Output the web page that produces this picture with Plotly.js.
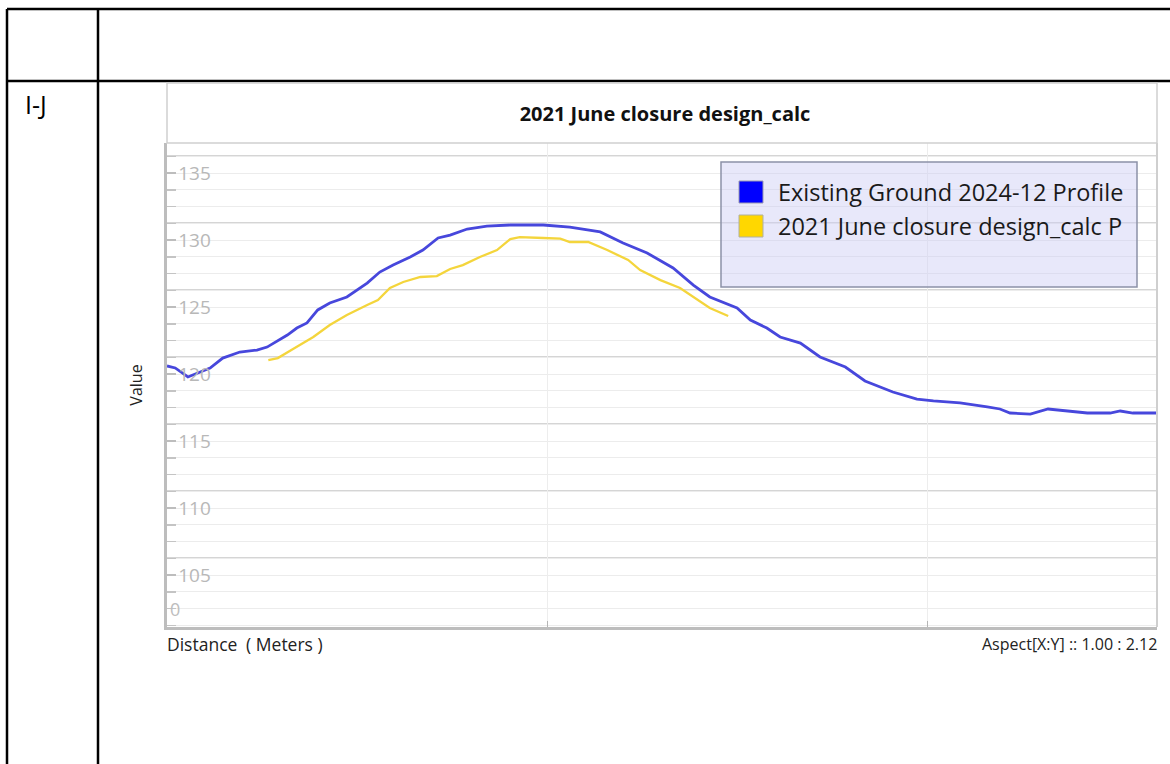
<!DOCTYPE html>
<html>
<head>
<meta charset="utf-8">
<script src="https://cdn.plot.ly/plotly-3.0.1.min.js"></script>
<style>
  html, body { margin: 0; padding: 0; background: #ffffff; }
  #chart { width: 1170px; height: 764px; }
</style>
</head>
<body>
<div id="chart"></div>
<script>
// Existing ground profile: distance along section (m) and elevation
const groundDist = [0, 1.3, 3.3, 5.2, 6.8, 8.8, 11.5, 14.2, 15.8, 19.0,
  20.5, 22.1, 23.8, 25.7, 28.4, 31.6, 33.6, 35.7, 38.4, 40.4,
  42.8, 44.7, 47.4, 50.5, 54.2, 59.4, 63.6, 68.4, 72.0, 75.8,
  79.9, 83.1, 85.7, 90.0, 92.1, 94.7, 96.8, 100.0, 103.1, 107.1,
  110.2, 114.6, 118.4, 121.0, 125.2, 129.5, 131.5, 133.1, 136.3, 139.1,
  142.1, 145.3, 148.9, 150.5, 152.5, 156.3];
const groundElev = [120.6, 120.45, 119.78, 120.15, 120.45, 121.19, 121.64, 121.79, 122.01, 122.91,
  123.43, 123.81, 124.78, 125.3, 125.75, 126.79, 127.61, 128.13, 128.73, 129.25,
  130.15, 130.37, 130.82, 131.04, 131.12, 131.12, 130.97, 130.6, 129.78, 129.03,
  127.91, 126.64, 125.75, 124.93, 124.03, 123.43, 122.76, 122.31, 121.27, 120.52,
  119.48, 118.66, 118.13, 117.99, 117.84, 117.54, 117.39, 117.09, 117.01, 117.39,
  117.24, 117.09, 117.09, 117.24, 117.09, 117.09];

// Design profile (2021 June closure)
const designDist = [16.0, 17.5, 19.9, 23.1, 25.7, 28.4, 31.6, 33.3, 35.2, 37.3,
  40.0, 42.6, 44.7, 46.7, 49.4, 52.1, 54.2, 55.7, 59.4, 62.1,
  63.6, 66.5, 69.5, 72.8, 74.7, 77.9, 81.0, 83.1, 85.7, 88.6];
const designElev = [121.04, 121.19, 121.87, 122.76, 123.66, 124.4, 125.15, 125.52, 126.42, 126.87,
  127.24, 127.31, 127.84, 128.13, 128.73, 129.25, 130.07, 130.22, 130.15, 130.1,
  129.85, 129.85, 129.25, 128.51, 127.76, 127.01, 126.42, 125.75, 124.93, 124.33];

const elevTicks = [135, 130, 125, 120, 115, 110, 105];
const seriesNames = ['Existing Ground 2024-12 Profile', '2021 June closure design_calc P'];
const seriesColors = ['#4747dc', '#f4d53c'];
const swatchColors = ['#0000ff', '#ffd700'];
const chartTitle = '2021 June closure design_calc';
const sectionLabel = 'I-J';

// page geometry (pixels) of the plotting frame
const W = 1170, H = 764, L = 167, R = 1157, T = 143, B = 627;
const px = x => (x - L) / (R - L);
const py = y => (B - y) / (B - T);

const FONT = '"Open Sans", "Noto Sans", sans-serif';

const traces = [
  { x: groundDist, y: groundElev, type: 'scatter', mode: 'lines', name: seriesNames[0],
    line: { color: seriesColors[0], width: 2.8 }, showlegend: false },
  { x: designDist, y: designElev, type: 'scatter', mode: 'lines', name: seriesNames[1],
    line: { color: seriesColors[1], width: 2.3 }, showlegend: false }
];

const shapes = [];
const blackLine = { color: '#000000', width: 2.5 };
// table rules around the section cell
shapes.push({ type: 'line', xref: 'paper', yref: 'paper', x0: px(7), x1: px(1172), y0: py(9), y1: py(9), line: blackLine });
shapes.push({ type: 'line', xref: 'paper', yref: 'paper', x0: px(7), x1: px(1172), y0: py(81), y1: py(81), line: blackLine });
shapes.push({ type: 'line', xref: 'paper', yref: 'paper', x0: px(7), x1: px(7), y0: py(9), y1: py(770), line: blackLine });
shapes.push({ type: 'line', xref: 'paper', yref: 'paper', x0: px(98), x1: px(98), y0: py(9), y1: py(770), line: blackLine });

// chart frame and title box
shapes.push({ type: 'rect', xref: 'paper', yref: 'paper', x0: px(167), x1: px(1157), y0: py(83), y1: py(143),
  line: { color: '#cfcfcf', width: 1.5 }, fillcolor: 'rgba(0,0,0,0)' });
shapes.push({ type: 'line', xref: 'paper', yref: 'paper', x0: 1, x1: 1, y0: 0, y1: 1,
  line: { color: '#cfcfcf', width: 2 } });

// heavy elevation rules every 5 m, offset from the labelled ticks
for (let v = 136.25; v > 102; v -= 5) {
  shapes.push({ type: 'line', xref: 'paper', yref: 'y', x0: 0, x1: 1, y0: v, y1: v,
    line: { color: '#ababab', width: 1.5 }, layer: 'below' });
}

// legend box with colour swatches
shapes.push({ type: 'rect', xref: 'paper', yref: 'paper', x0: px(721), x1: px(1137), y0: py(162), y1: py(287),
  line: { color: '#8c91a8', width: 1.5 }, fillcolor: 'rgba(205,205,245,0.45)' });
shapes.push({ type: 'rect', xref: 'paper', yref: 'paper', x0: px(739), x1: px(763), y0: py(181), y1: py(203),
  line: { color: '#9a9ab0', width: 1 }, fillcolor: swatchColors[0] });
shapes.push({ type: 'rect', xref: 'paper', yref: 'paper', x0: px(739), x1: px(763), y0: py(215), y1: py(237),
  line: { color: '#b0b0a0', width: 1 }, fillcolor: swatchColors[1] });

const annotations = [
  { text: sectionLabel, xref: 'paper', yref: 'paper', x: px(23), y: py(104), xanchor: 'left', yanchor: 'middle',
    showarrow: false, font: { family: FONT, size: 25, color: '#000000' } },
  { text: seriesNames[0], xref: 'paper', yref: 'paper', x: px(776), y: py(192), xanchor: 'left', yanchor: 'middle',
    showarrow: false, font: { family: FONT, size: 23.5, color: '#1a1a1a' } },
  { text: seriesNames[1], xref: 'paper', yref: 'paper', x: px(776), y: py(226), xanchor: 'left', yanchor: 'middle',
    showarrow: false, font: { family: FONT, size: 23.5, color: '#1a1a1a' } },
  { text: 'Distance\u2002( Meters )', xref: 'paper', yref: 'paper', x: px(165), y: py(644), xanchor: 'left', yanchor: 'middle',
    showarrow: false, font: { family: FONT, size: 17.5, color: '#222222' } },
  { text: 'Aspect[X:Y] :: 1.00 : 2.12', xref: 'paper', yref: 'paper', x: px(1159), y: py(644), xanchor: 'right', yanchor: 'middle',
    showarrow: false, font: { family: FONT, size: 16, color: '#222222' } },
  { text: '0', xref: 'paper', yref: 'y', x: px(168), y: 102.5, xanchor: 'left', yanchor: 'middle',
    showarrow: false, font: { family: FONT, size: 18, color: '#bdbdbd' } }
];

const layout = {
  width: W, height: H,
  margin: { l: L, r: W - R, t: T, b: H - B, pad: 0 },
  paper_bgcolor: '#ffffff', plot_bgcolor: '#ffffff',
  showlegend: false,
  title: { text: chartTitle, x: 665 / W, xanchor: 'center', y: 1 - 114 / H, yanchor: 'middle',
    xref: 'container', yref: 'container',
    font: { family: FONT, size: 20, color: '#111111', weight: 700 } },
  xaxis: {
    range: [0, 156.3], tick0: 0, dtick: 60,
    showgrid: true, gridcolor: '#ededed', gridwidth: 1,
    showticklabels: false, ticks: 'inside', ticklen: 6, tickcolor: '#b5b5b5',
    showline: true, linecolor: '#bdbdbd', linewidth: 3, zeroline: false, fixedrange: true
  },
  yaxis: {
    range: [101.12, 137.24],
    tickmode: 'array', tickvals: elevTicks, ticktext: elevTicks.map(String),
    ticks: 'inside', ticklen: 9, tickcolor: '#bdbdbd', tickwidth: 1.5,
    ticklabelposition: 'inside', ticklabelstandoff: 3,
    tickfont: { family: FONT, size: 19, color: '#b8b8b8' },
    showgrid: false, zeroline: false,
    showline: true, linecolor: '#bdbdbd', linewidth: 3,
    minor: { tick0: 101.25, dtick: 1.25, showgrid: true, gridcolor: '#ececec', gridwidth: 1,
      ticks: 'inside', ticklen: 9, tickcolor: '#c4c4c4' },
    title: { text: 'Value', standoff: 32, font: { family: FONT, size: 16, color: '#222222' } },
    fixedrange: true
  },
  shapes: shapes,
  annotations: annotations
};

Plotly.newPlot('chart', traces, layout, { staticPlot: true, displayModeBar: false });
</script>
</body>
</html>
